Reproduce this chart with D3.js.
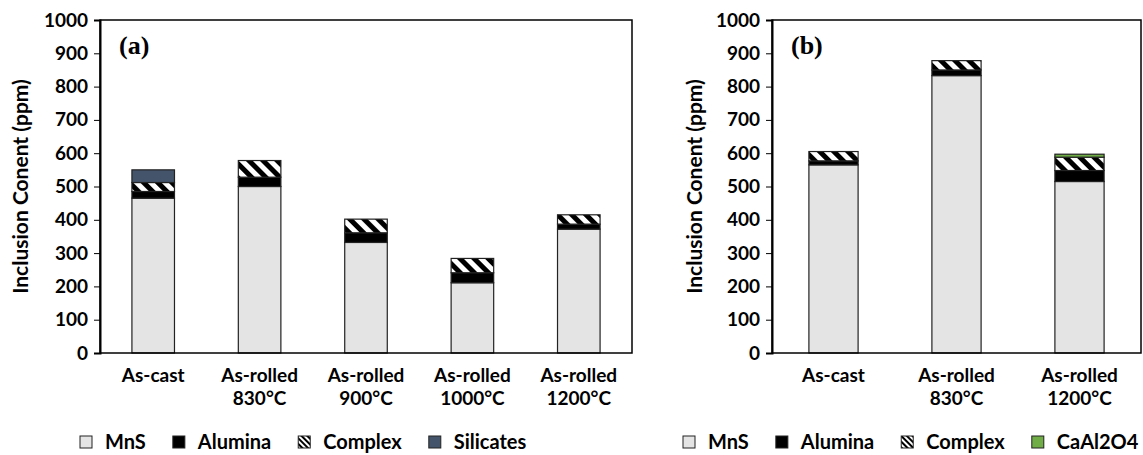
<!DOCTYPE html>
<html>
<head>
<meta charset="utf-8">
<script src="https://cdn.jsdelivr.net/npm/d3@7"></script>
<style>
  body { margin: 0; background: #fff; }
  svg text { font-family: Lato, "Open Sans", sans-serif; font-weight: 700; fill: #000; }
</style>
</head>
<body>
<script>
// panel (a) data
const catsA = [["As-cast"], ["As-rolled", "830°C"], ["As-rolled", "900°C"], ["As-rolled", "1000°C"], ["As-rolled", "1200°C"]];
const mnsA = [465, 500, 332, 211, 372];
const aluminaA = [20, 28, 29, 30, 15];
const complexA = [27, 50, 41, 43, 28];
const silicatesA = [38, 0, 0, 0, 0];

// panel (b) data
const catsB = [["As-cast"], ["As-rolled", "830°C"], ["As-rolled", "1200°C"]];
const mnsB = [565, 833, 515];
const aluminaB = [12, 17, 33];
const complexB = [28, 28, 40];
const caal2o4B = [0, 0, 9];

const yTicks = [0, 100, 200, 300, 400, 500, 600, 700, 800, 900, 1000];
const yTitle = "Inclusion Conent (ppm)";

const W = 1143, H = 455;
const svg = d3.select("body").append("svg").attr("width", W).attr("height", H);

// hatch for "Complex"
const defs = svg.append("defs");
defs.append("pattern")
  .attr("id", "hatch")
  .attr("patternUnits", "userSpaceOnUse")
  .attr("width", 10).attr("height", 10)
  .attr("patternTransform", "rotate(-45)")
  .call(p => {
    p.append("rect").attr("width", 10).attr("height", 10).attr("fill", "#fff");
    p.append("rect").attr("width", 5).attr("height", 10).attr("fill", "#000");
  });
// smaller one for legend swatch
defs.append("pattern")
  .attr("id", "hatchL")
  .attr("patternUnits", "userSpaceOnUse")
  .attr("width", 4).attr("height", 4)
  .attr("patternTransform", "rotate(-45)")
  .call(p => {
    p.append("rect").attr("width", 4).attr("height", 4).attr("fill", "#fff");
    p.append("rect").attr("width", 2).attr("height", 4).attr("fill", "#000");
  });

const colors = { MnS: "#e4e4e4", Alumina: "#000", Complex: "url(#hatch)", Silicates: "#44546a", CaAl2O4: "#70ad47" };

function panel(opt) {
  const g = svg.append("g");
  const rows = opt.cats.map((c, i) => {
    const r = { cat: c.join(" ") };
    opt.keys.forEach((k, j) => r[k] = opt.series[j][i]);
    return r;
  });
  const x = d3.scaleBand().domain(rows.map(d => d.cat))
    .range([opt.left, opt.right]).paddingInner(0.6).paddingOuter(0.3);
  const y = d3.scaleLinear().domain([0, 1000]).range([opt.bottom, opt.top]);

  const stacked = d3.stack().keys(opt.keys)(rows);
  g.selectAll("g.layer").data(stacked).enter().append("g")
    .attr("class", "layer")
    .attr("fill", d => colors[d.key])
    .selectAll("rect")
    .data(d => d.filter(s => s[1] - s[0] > 0))
    .enter().append("rect")
    .attr("x", d => x(d.data.cat))
    .attr("width", x.bandwidth())
    .attr("y", d => y(d[1]))
    .attr("height", d => y(d[0]) - y(d[1]))
    .attr("stroke", "#222").attr("stroke-width", 1.2);

  // frame
  g.append("rect")
    .attr("x", opt.left).attr("y", opt.top)
    .attr("width", opt.right - opt.left).attr("height", opt.bottom - opt.top)
    .attr("fill", "none").attr("stroke", "#000").attr("stroke-width", 1.5);

  const ax = g.append("g").attr("transform", "translate(" + opt.left + ",0)")
    .call(d3.axisLeft(y).tickValues(yTicks).tickFormat(d3.format("d")).tickSize(6).tickPadding(6));
  ax.select(".domain").attr("stroke-width", 2);
  ax.selectAll("text").style("font-size", "19px");

  // category labels
  rows.forEach((r, i) => {
    const cx = x(r.cat) + x.bandwidth() / 2;
    const t = g.append("text")
      .attr("x", cx)
      .attr("y", opt.bottom + 29)
      .attr("text-anchor", "middle")
      .style("font-size", "19px");
    opt.cats[i].forEach((line, j) => {
      t.append("tspan").attr("x", cx).attr("dy", j === 0 ? 0 : 23).text(line);
    });
  });

  // y title
  g.append("text")
    .attr("transform", "translate(" + opt.titleX + "," + ((opt.top + opt.bottom) / 2) + ") rotate(-90)")
    .attr("text-anchor", "middle")
    .style("font-size", "21px")
    .text(yTitle);

  // panel label
  g.append("text")
    .attr("x", opt.left + 19).attr("y", 54)
    .style("font-family", "'Liberation Serif', serif")
    .style("font-size", "26px")
    .text(opt.label);

  // legend
  let lx = opt.legendX;
  opt.keys.forEach(k => {
    g.append("rect").attr("x", lx).attr("y", 436).attr("width", 12).attr("height", 12)
      .attr("fill", k === "Complex" ? "url(#hatchL)" : colors[k])
      .attr("stroke", "#222").attr("stroke-width", 1);
    const t = g.append("text").attr("x", lx + 25).attr("y", 449)
      .style("font-size", "20px").text(k);
    lx += 25 + t.node().getComputedTextLength() + 27;
  });
}

panel({
  cats: catsA, keys: ["MnS", "Alumina", "Complex", "Silicates"],
  series: [mnsA, aluminaA, complexA, silicatesA],
  left: 100, right: 632, top: 20, bottom: 353, titleX: 28, label: "(a)", legendX: 80
});
panel({
  cats: catsB, keys: ["MnS", "Alumina", "Complex", "CaAl2O4"],
  series: [mnsB, aluminaB, complexB, caal2o4B],
  left: 772, right: 1141, top: 20, bottom: 353, titleX: 702, label: "(b)", legendX: 683
});
</script>
</body>
</html>
